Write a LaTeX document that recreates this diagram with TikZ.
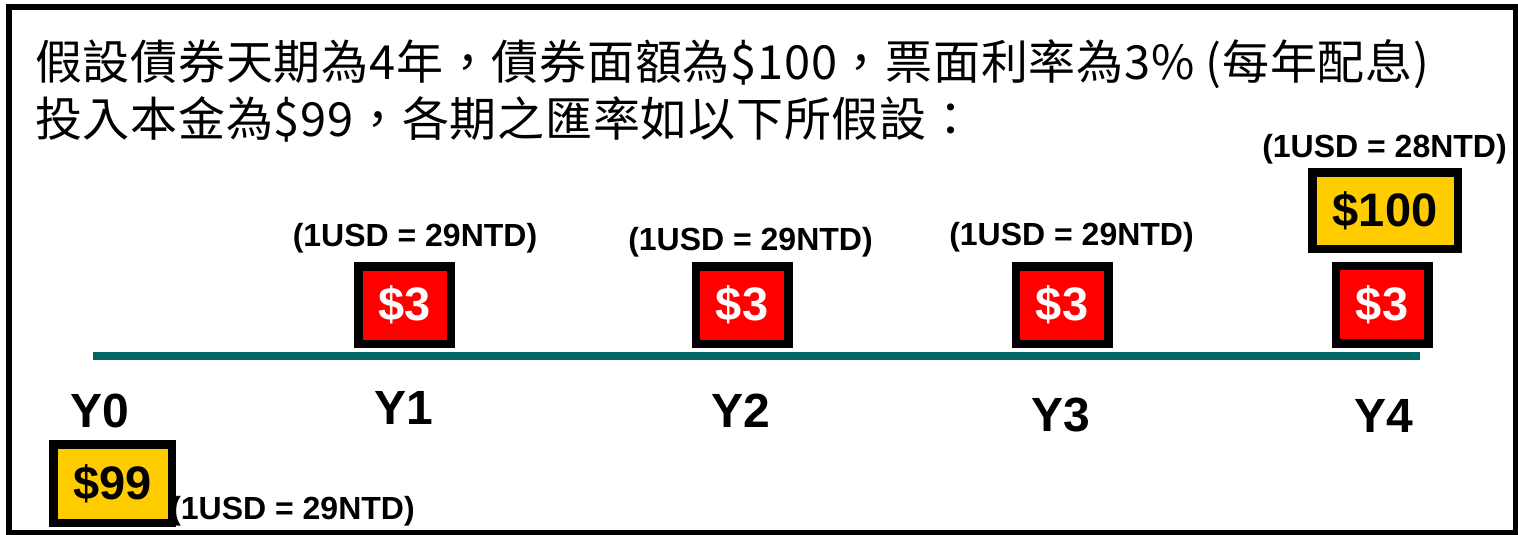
\documentclass[tikz,border=0pt]{standalone}
\usepackage{fontspec}
\setmainfont{Liberation Sans}
\newfontfamily\cjk[LetterSpace=1.6]{Noto Sans CJK TC}
\definecolor{tealline}{RGB}{0,102,102}
\definecolor{goldfill}{RGB}{255,204,0}
\begin{document}
\begin{tikzpicture}[x=1pt,y=-1pt,
  cashbox/.style={draw=black, line width=8.5pt, inner sep=0pt,
    font=\fontsize{47}{50}\selectfont\bfseries},
  redbox/.style={cashbox, fill=red, text=white, minimum width=92.5pt, minimum height=77.5pt},
  goldbox/.style={cashbox, fill=goldfill, text=black},
  ratelabel/.style={inner sep=0pt, font=\fontsize{32}{36}\selectfont\bfseries},
  yearlabel/.style={inner sep=0pt, font=\fontsize{48}{52}\selectfont\bfseries},
  headline/.style={inner sep=0pt, anchor=base west, font=\cjk\fontsize{47}{52}\selectfont},
  timeline/.style={draw=tealline, line width=8pt}
]
\useasboundingbox (0,0) rectangle (1518,535);
\node (frame) [draw=black, line width=6pt, minimum width=1507pt, minimum height=526pt, inner sep=0pt] at (762.5,270) {};

\node (head1) [headline] at (35,80) {假設債券天期為4年，債券面額為\$100，票面利率為3\% (每年配息)};
\node (head2) [headline] at (35,136) {投入本金為\$99，各期之匯率如以下所假設：};

\coordinate (tlstart) at (93,356);
\coordinate (tlend) at (1420,356);
\draw[timeline] (tlstart) -- (tlend);

\node (c1) [redbox] at (404.5,305) {\$3};
\node (c2) [redbox] at (742,305) {\$3};
\node (c3) [redbox] at (1062,305) {\$3};
\node (c4) [redbox] at (1382,304.5) {\$3};
\node (p4) [goldbox, minimum width=145.5pt, minimum height=76.5pt] at (1385,210.5) {\$100};
\node (p0) [goldbox, minimum width=118.5pt, minimum height=78.5pt] at (112.5,483.5) {\$99};

\node (r1) [ratelabel] at (415,238) {(1USD = 29NTD)};
\node (r2) [ratelabel] at (750.5,242) {(1USD = 29NTD)};
\node (r3) [ratelabel] at (1071.5,237) {(1USD = 29NTD)};
\node (r4) [ratelabel] at (1384.5,149) {(1USD = 28NTD)};
\node (r0) [ratelabel] at (292.5,511) {(1USD = 29NTD)};

\node (y0) [yearlabel] at (100,410.5) {Y0};
\node (y1) [yearlabel] at (403.5,407.5) {Y1};
\node (y2) [yearlabel] at (740.5,410.5) {Y2};
\node (y3) [yearlabel] at (1061,415.5) {Y3};
\node (y4) [yearlabel] at (1384,415.5) {Y4};
\end{tikzpicture}
\end{document}
